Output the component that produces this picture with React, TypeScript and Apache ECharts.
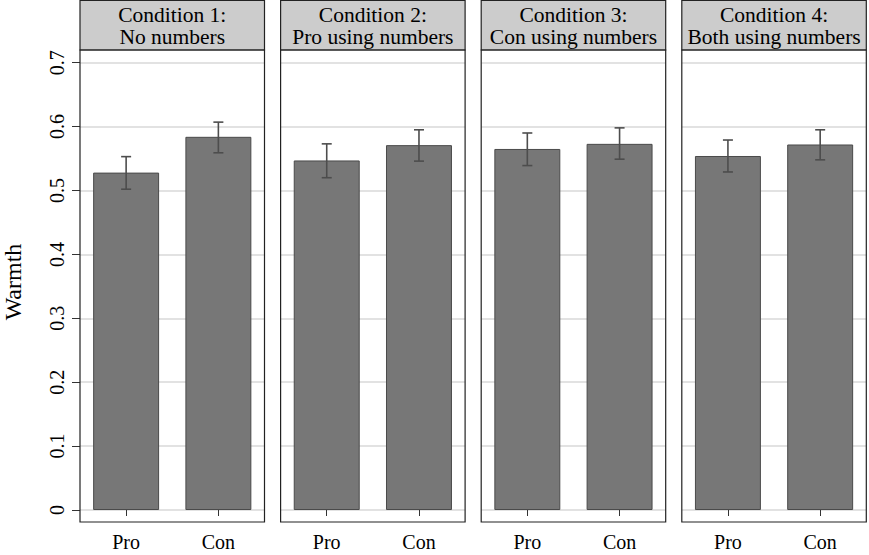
import React, { useEffect, useRef } from "react";
import * as echarts from "echarts";

const conditionTitles = [
  "Condition 1:\nNo numbers",
  "Condition 2:\nPro using numbers",
  "Condition 3:\nCon using numbers",
  "Condition 4:\nBoth using numbers",
];
const categories = ["Pro", "Con"];
const meanPro = [0.528, 0.547, 0.565, 0.554];
const meanCon = [0.584, 0.571, 0.573, 0.572];
const lowPro = [0.502, 0.52, 0.539, 0.529];
const highPro = [0.553, 0.573, 0.59, 0.579];
const lowCon = [0.559, 0.546, 0.549, 0.548];
const highCon = [0.607, 0.595, 0.598, 0.595];
const yTicks = [0, 0.1, 0.2, 0.3, 0.4, 0.5, 0.6, 0.7];
const yTitle = "Warmth";

const FONT = "'Liberation Serif', 'DejaVu Serif', serif";

export default function App() {
  const ref = useRef<HTMLDivElement>(null);
  useEffect(() => {
    document.body.style.margin = "0";
    const chart = echarts.init(ref.current!, null, { renderer: "svg" });
    const panelLeft0 = 80;
    const panelStep = 200.6;
    const panelW = 184.5;
    const headerTop = 0.5;
    const headerBottom = 50;
    const frameBottom = 522;
    const gridTop = 62.7;
    const gridBottomPx = 510;
    const H = 555;

    const grids: any[] = [];
    const xAxes: any[] = [];
    const yAxes: any[] = [];
    const series: any[] = [];
    const graphics: any[] = [];

    for (let i = 0; i < 4; i++) {
      const left = panelLeft0 + i * panelStep;
      grids.push({ left, width: panelW, top: gridTop, bottom: H - gridBottomPx, containLabel: false });
      xAxes.push({
        type: "category",
        gridIndex: i,
        data: categories,
        offset: frameBottom - gridBottomPx,
        axisLine: { show: false },
        axisTick: { show: true, alignWithLabel: true, length: 6, lineStyle: { color: "#333", width: 1 } },
        axisLabel: { fontFamily: FONT, fontSize: 20, color: "#000", margin: 10 },
      });
      yAxes.push({
        type: "value",
        gridIndex: i,
        min: 0,
        max: 0.7,
        interval: 0.1,
        axisLine: { show: false },
        axisTick: { show: i === 0, length: 8, lineStyle: { color: "#333", width: 1 } },
        axisLabel: {
          show: i === 0,
          rotate: 90,
          fontFamily: FONT,
          fontSize: 20,
          color: "#000",
          margin: 13,
          formatter: (v: number) => {
            const t = yTicks.find((k) => Math.abs(k - v) < 1e-6);
            return t === undefined ? "" : String(t);
          },
        },
        splitLine: { show: true, lineStyle: { color: "#d9d9d9", width: 1.5 } },
      });
      series.push({
        type: "bar",
        xAxisIndex: i,
        yAxisIndex: i,
        data: [meanPro[i], meanCon[i]],
        barWidth: "71.5%",
        itemStyle: { color: "#777777", borderColor: "#4a4a4a", borderWidth: 1 },
        z: 3,
      });
      series.push({
        type: "custom",
        xAxisIndex: i,
        yAxisIndex: i,
        data: [
          [0, lowPro[i], highPro[i]],
          [1, lowCon[i], highCon[i]],
        ],
        z: 5,
        renderItem: (params: any, api: any) => {
          const x = api.value(0);
          const lo = api.coord([x, api.value(1)]);
          const hi = api.coord([x, api.value(2)]);
          const cap = 5;
          const style = { stroke: "#4d4d4d", lineWidth: 1.6 };
          return {
            type: "group",
            children: [
              { type: "line", shape: { x1: lo[0], y1: lo[1], x2: hi[0], y2: hi[1] }, style },
              { type: "line", shape: { x1: lo[0] - cap, y1: lo[1], x2: lo[0] + cap, y2: lo[1] }, style },
              { type: "line", shape: { x1: hi[0] - cap, y1: hi[1], x2: hi[0] + cap, y2: hi[1] }, style },
            ],
          };
        },
      });
      graphics.push({
        type: "rect",
        shape: { x: left, y: headerTop, width: panelW, height: headerBottom - headerTop },
        style: { fill: "#cccccc", stroke: "#222", lineWidth: 1.2 },
        z: 1,
      });
      graphics.push({
        type: "text",
        x: left + panelW / 2,
        y: (headerTop + headerBottom) / 2 + 0.5,
        style: {
          text: conditionTitles[i],
          fontFamily: FONT,
          fontSize: 21.5,
          lineHeight: 22,
          fill: "#000",
          align: "center",
          verticalAlign: "middle",
        },
        z: 2,
      });
      graphics.push({
        type: "rect",
        shape: { x: left, y: headerBottom, width: panelW, height: frameBottom - headerBottom },
        style: { fill: "none", stroke: "#222", lineWidth: 1.2 },
        z: 100,
      });
    }
    graphics.push({
      type: "text",
      x: 13,
      y: 282,
      rotation: Math.PI / 2,
      style: {
        text: yTitle,
        fontFamily: FONT,
        fontSize: 24,
        fill: "#000",
        align: "center",
        verticalAlign: "middle",
      },
    });

    chart.setOption({
      animation: false,
      backgroundColor: "#ffffff",
      grid: grids,
      xAxis: xAxes,
      yAxis: yAxes,
      series,
      graphic: graphics,
    });
    return () => chart.dispose();
  }, []);
  return <div ref={ref} style={{ position: "fixed", left: 0, top: 0, width: 869, height: 555 }} />;
}
